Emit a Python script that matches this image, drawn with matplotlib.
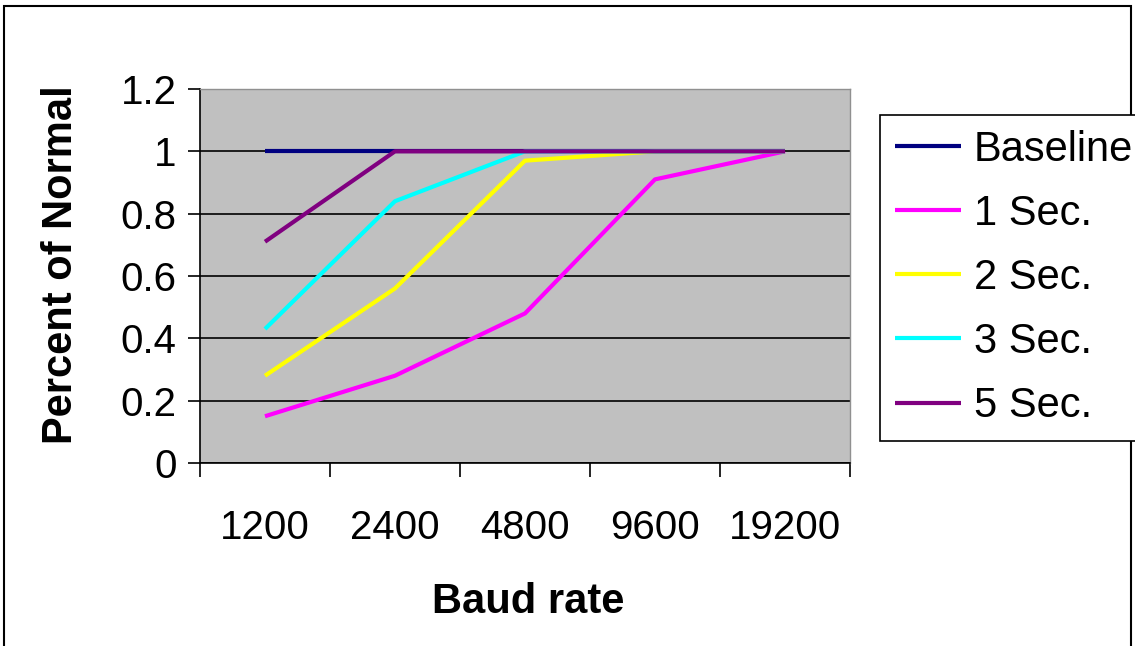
import matplotlib
matplotlib.use("Agg")
import matplotlib.pyplot as plt
from matplotlib.patches import Rectangle

plt.rcParams['font.family'] = ['Liberation Sans', 'DejaVu Sans']

categories = ["1200", "2400", "4800", "9600", "19200"]
series_names = ["Baseline", "1 Sec.", "2 Sec.", "3 Sec.", "5 Sec."]
baseline = [1.0, 1.0, 1.0, 1.0, 1.0]
sec1 = [0.15, 0.28, 0.48, 0.91, 1.0]
sec2 = [0.28, 0.56, 0.97, 1.0, 1.0]
sec3 = [0.43, 0.84, 1.0, 1.0, 1.0]
sec5 = [0.71, 1.0, 1.0, 1.0, 1.0]
colors = ["#000080", "#FF00FF", "#FFFF00", "#00FFFF", "#800080"]
yticks = [0, 0.2, 0.4, 0.6, 0.8, 1.0, 1.2]
ytick_labels = ["0", "0.2", "0.4", "0.6", "0.8", "1", "1.2"]

W, H = 1135, 646
fig = plt.figure(figsize=(W/100, H/100), dpi=100)
fig.patch.set_facecolor("white")
ax = fig.add_axes([200/W, 1-463/H, 650/W, 374/H])
ax.set_facecolor("#C0C0C0")

x = list(range(len(categories)))
for name, vals, c in zip(series_names, [baseline, sec1, sec2, sec3, sec5], colors):
    ax.plot(x, vals, color=c, lw=3, label=name, solid_capstyle='butt', zorder=3)

ax.set_xlim(-0.5, len(categories)-0.5)
ax.set_ylim(0, 1.2)
ax.set_yticks(yticks)
ax.set_yticklabels(ytick_labels, fontsize=29)
ax.yaxis.grid(True, color="black", lw=1.2, zorder=1)
ax.set_axisbelow(True)

ax.set_xticks(x)
ax.set_xticklabels(categories, fontsize=29)
ax.tick_params(axis='x', which='major', length=0, pad=33)
ax.set_xticks([i - 0.5 for i in range(len(categories)+1)], minor=True)
ax.tick_params(axis='x', which='minor', length=10, width=1.2, direction='out')
ax.tick_params(axis='y', length=9, width=1.2, direction='out', pad=8)

for s in ['left', 'bottom']:
    ax.spines[s].set_color("black")
    ax.spines[s].set_linewidth(1.2)
for s in ['top', 'right']:
    ax.spines[s].set_color("#909090")
    ax.spines[s].set_linewidth(1.0)

fig.text(61/W, 1-265/H, "Percent of Normal", rotation=90, fontsize=30,
         fontweight='bold', ha='center', va='center')
fig.text(528/W, 1-602/H, "Baud rate", fontsize=30, fontweight='bold',
         ha='center', va='center')

leg = fig.legend(loc='upper left', bbox_to_anchor=(880/W, 1-115/H),
                 bbox_transform=fig.transFigure, fontsize=30, frameon=True,
                 fancybox=False, shadow=False, handlelength=1.6,
                 handletextpad=0.3, labelspacing=0.58, borderpad=0.35,
                 borderaxespad=0)
leg.get_frame().set_edgecolor("black")
leg.get_frame().set_linewidth(1.2)
leg.get_frame().set_facecolor("white")
leg.get_frame().set_alpha(1)

fig.patches.append(Rectangle((4/W, -0.05), 1127/W, 1-6/H+0.05,
                             transform=fig.transFigure, fill=False,
                             edgecolor="black", lw=1.5, zorder=0))

fig.savefig("out.png", dpi=100)
